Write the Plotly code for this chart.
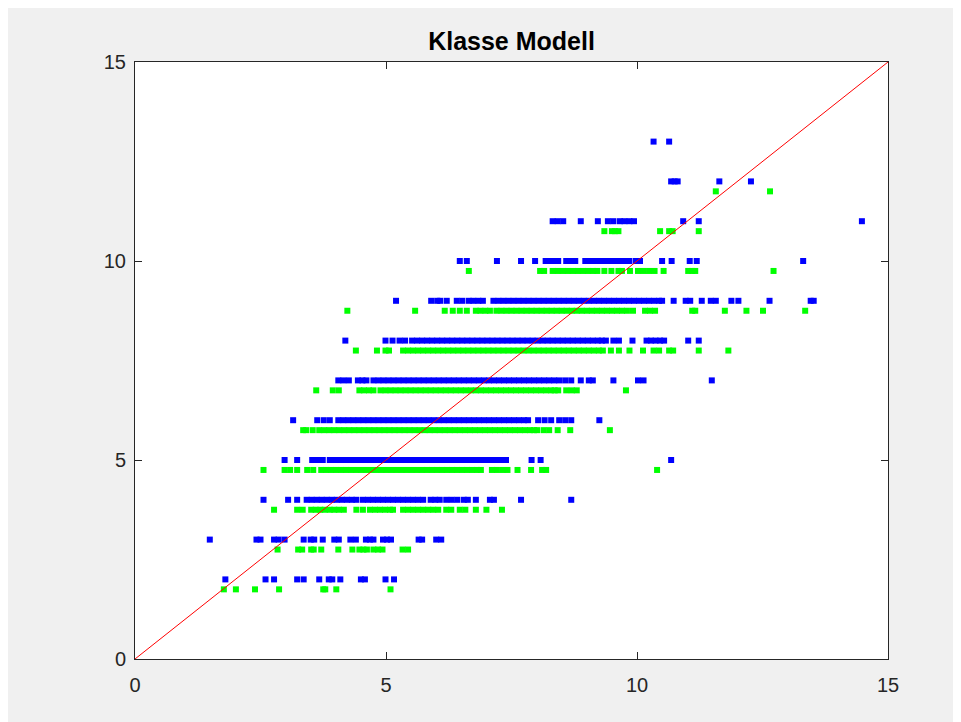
import plotly.graph_objects as go

# ---- data ----
# Blue series: one list of x values per integer class value y
blue_2 = [1.80, 2.60, 2.77, 3.23, 3.36, 3.67, 3.86, 3.93, 4.09, 4.50, 4.58, 4.99, 5.16]
blue_3 = [1.49, 2.42, 2.50, 2.77, 2.86, 2.98, 3.36, 3.50, 3.57, 3.74, 3.97, 4.06, 4.29, 4.40,
          4.60, 4.68, 4.75, 4.94, 5.02, 5.10, 5.65, 5.72, 6.00, 6.10]
blue_4 = [2.56, 3.05, 3.23, 3.42, 3.52, 3.62, 3.72, 3.82, 3.92, 4.02, 4.12, 4.22, 4.32, 4.41,
          4.54, 4.64, 4.74, 4.84, 4.94, 5.04, 5.14, 5.24, 5.34, 5.44, 5.54, 5.64, 5.74,
          5.89, 5.98, 6.07, 6.20, 6.31, 6.42, 6.55, 6.63, 6.79, 7.07, 7.15, 7.69, 8.69]
blue_5 = [2.98, 3.23, 3.53, 3.63, 3.74, 3.88, 3.98, 4.08, 4.18, 4.28, 4.38, 4.48, 4.58, 4.68,
          4.78, 4.88, 4.98, 5.08, 5.18, 5.28, 5.38, 5.48, 5.58, 5.68, 5.78, 5.88, 5.98, 6.08,
          6.18, 6.28, 6.38, 6.48, 6.58, 6.68, 6.78, 6.88, 6.98, 7.08, 7.18, 7.28, 7.39,
          7.90, 8.08, 10.68]
blue_6 = [3.15, 3.63, 3.76, 3.88, 4.05, 4.15, 4.25, 4.35, 4.45, 4.55, 4.65, 4.75, 4.85, 4.95,
          5.05, 5.15, 5.25, 5.35, 5.45, 5.55, 5.65, 5.75, 5.85, 5.95, 6.05, 6.15, 6.25, 6.35,
          6.45, 6.55, 6.65, 6.75, 6.85, 6.95, 7.05, 7.15, 7.25, 7.35, 7.45, 7.55, 7.65, 7.75,
          7.83, 8.03, 8.16, 8.29, 8.45, 8.57, 8.69, 9.25]
blue_7 = [4.05, 4.15, 4.26, 4.44, 4.53, 4.61, 4.75, 4.85, 4.95, 5.05, 5.15, 5.25, 5.35, 5.45,
          5.55, 5.65, 5.75, 5.85, 5.95, 6.05, 6.15, 6.25, 6.35, 6.45, 6.55, 6.65, 6.75, 6.85,
          6.95, 7.05, 7.15, 7.25, 7.35, 7.45, 7.55, 7.65, 7.75, 7.85, 7.95, 8.05, 8.15, 8.25,
          8.35, 8.45, 8.57, 8.69, 8.88, 9.04, 9.12, 9.53, 10.02, 10.13, 11.49]
blue_8 = [4.19, 4.99, 5.13, 5.27, 5.38, 5.52, 5.62, 5.72, 5.82, 5.92, 6.02, 6.12, 6.22, 6.32,
          6.42, 6.52, 6.62, 6.72, 6.82, 6.92, 7.02, 7.12, 7.22, 7.32, 7.42, 7.52, 7.62, 7.72,
          7.82, 7.92, 8.02, 8.12, 8.22, 8.32, 8.42, 8.52, 8.62, 8.72, 8.82, 8.92, 9.02, 9.12,
          9.22, 9.30, 9.38, 9.53, 9.64, 9.91, 10.19, 10.28, 10.37, 10.46, 10.54, 11.02, 11.23]
blue_9 = [5.20, 5.90, 6.02, 6.08, 6.21, 6.41, 6.52, 6.65, 6.74, 6.84, 6.93, 7.14, 7.24, 7.34,
          7.44, 7.54, 7.64, 7.74, 7.84, 7.94, 8.04, 8.14, 8.24, 8.34, 8.44, 8.54, 8.64, 8.74,
          8.84, 8.94, 9.04, 9.14, 9.24, 9.34, 9.44, 9.54, 9.64, 9.74, 9.84, 9.94, 10.04, 10.14,
          10.24, 10.34, 10.44, 10.50, 10.73, 10.97, 11.06, 11.29, 11.47, 11.57, 11.88, 12.02,
          12.64, 13.46, 13.52]
blue_10 = [6.47, 6.61, 7.21, 7.69, 7.97, 8.18, 8.26, 8.35, 8.43, 8.59, 8.68, 8.77, 8.97, 9.07,
           9.17, 9.27, 9.37, 9.47, 9.57, 9.67, 9.77, 9.85, 9.98, 10.06, 10.50, 10.69, 11.05,
           11.19, 13.31]
blue_11 = [8.32, 8.42, 8.53, 8.88, 9.22, 9.42, 9.53, 9.66, 9.75, 9.85, 9.94, 10.92, 11.23, 14.48]
blue_12 = [10.68, 10.75, 10.81, 11.64, 12.27]
blue_13 = [10.33, 10.64]

# Green series: one list of x values per shifted class value (y - 0.25)
green_2 = [1.77, 2.01, 2.39, 2.87, 3.75, 3.79, 4.01, 5.09]
green_3 = [2.84, 3.25, 3.33, 3.51, 3.56, 3.71, 4.05, 4.33, 4.47, 4.55, 4.62, 4.75, 4.84, 4.93,
           5.33, 5.44]
green_4 = [2.77, 3.23, 3.34, 3.51, 3.60, 3.69, 3.78, 3.88, 3.97, 4.06, 4.16, 4.41, 4.54, 4.68,
           4.78, 4.88, 4.98, 5.08, 5.14, 5.34, 5.44, 5.54, 5.64, 5.74, 5.84, 5.94, 6.04, 6.20,
           6.30, 6.47, 6.58, 6.79, 7.00, 7.31]
green_5 = [2.56, 2.98, 3.09, 3.23, 3.43, 3.55, 3.71, 3.81, 3.91, 4.01, 4.11, 4.21, 4.31, 4.41,
           4.51, 4.61, 4.71, 4.81, 4.91, 5.01, 5.11, 5.21, 5.31, 5.41, 5.51, 5.61, 5.71, 5.81,
           5.91, 6.01, 6.11, 6.21, 6.31, 6.41, 6.51, 6.61, 6.71, 6.81, 6.89, 7.11, 7.21, 7.32,
           7.42, 7.62, 7.89, 8.11, 8.19, 10.40]
green_6 = [3.35, 3.41, 3.54, 3.67, 3.77, 3.87, 3.97, 4.07, 4.17, 4.27, 4.37, 4.47, 4.57, 4.67,
           4.77, 4.87, 4.97, 5.07, 5.17, 5.27, 5.37, 5.47, 5.57, 5.67, 5.77, 5.87, 5.97, 6.07,
           6.17, 6.27, 6.37, 6.47, 6.57, 6.67, 6.77, 6.87, 6.97, 7.07, 7.17, 7.27, 7.37, 7.47,
           7.57, 7.67, 7.77, 7.87, 7.95, 8.01, 8.14, 8.25, 8.42, 8.67, 9.46]
green_7 = [3.61, 3.94, 4.06, 4.47, 4.56, 4.66, 4.75, 4.89, 4.99, 5.09, 5.19, 5.29, 5.39, 5.49,
           5.59, 5.69, 5.79, 5.89, 5.99, 6.09, 6.19, 6.29, 6.39, 6.49, 6.59, 6.69, 6.79, 6.89,
           6.99, 7.09, 7.19, 7.29, 7.39, 7.49, 7.59, 7.69, 7.79, 7.89, 7.99, 8.09, 8.19, 8.29,
           8.36, 8.43, 8.59, 8.70, 8.80, 9.78]
green_8 = [4.40, 4.82, 4.99, 5.06, 5.34, 5.44, 5.54, 5.64, 5.74, 5.84, 5.94, 6.04, 6.14, 6.24,
           6.34, 6.44, 6.54, 6.64, 6.74, 6.84, 6.94, 7.04, 7.14, 7.24, 7.34, 7.44, 7.54, 7.64,
           7.74, 7.84, 7.94, 8.04, 8.14, 8.24, 8.34, 8.44, 8.54, 8.64, 8.74, 8.84, 8.94, 9.04,
           9.14, 9.24, 9.32, 9.48, 9.64, 9.85, 10.12, 10.33, 10.44, 10.64, 10.72, 11.23, 11.82]
green_9 = [4.23, 5.58, 6.17, 6.33, 6.47, 6.61, 6.79, 6.88, 6.98, 7.07, 7.20, 7.30, 7.40, 7.50,
           7.60, 7.70, 7.80, 7.90, 8.00, 8.10, 8.20, 8.30, 8.40, 8.50, 8.60, 8.70, 8.80, 8.90,
           9.00, 9.10, 9.20, 9.30, 9.40, 9.50, 9.60, 9.70, 9.80, 9.92, 10.16, 10.26, 10.36,
           11.10, 11.16, 11.75, 12.18, 12.51, 13.35]
green_10 = [6.65, 8.07, 8.15, 8.32, 8.42, 8.52, 8.62, 8.72, 8.82, 8.92, 9.02, 9.12, 9.21, 9.35,
            9.49, 9.63, 9.70, 9.86, 10.02, 10.13, 10.24, 10.35, 10.53, 11.02, 11.10, 11.16, 12.72]
green_11 = [9.35, 9.50, 9.56, 9.63, 10.46, 10.64, 10.71, 11.23]
green_12 = [11.57, 12.65]

blue_rows = {2: blue_2, 3: blue_3, 4: blue_4, 5: blue_5, 6: blue_6, 7: blue_7, 8: blue_8,
             9: blue_9, 10: blue_10, 11: blue_11, 12: blue_12, 13: blue_13}
green_rows = {1.75: green_2, 2.75: green_3, 3.75: green_4, 4.75: green_5, 5.75: green_6,
              6.75: green_7, 7.75: green_8, 8.75: green_9, 9.75: green_10, 10.75: green_11,
              11.75: green_12}

ref_line = [0, 15]
tick_values = [0, 5, 10, 15]
title_text = "Klasse Modell"

bx, by = [], []
for yv, xs in blue_rows.items():
    bx += xs
    by += [yv] * len(xs)
gx, gy = [], []
for yv, xs in green_rows.items():
    gx += xs
    gy += [yv] * len(xs)

FONT = "Liberation Sans, Arial, Helvetica, sans-serif"
AX = "#262626"

fig = go.Figure()
fig.add_trace(go.Scatter(x=bx, y=by, mode="markers",
                         marker=dict(symbol="square", size=6, color="#0000ff", line=dict(width=0)),
                         hoverinfo="skip"))
fig.add_trace(go.Scatter(x=gx, y=gy, mode="markers",
                         marker=dict(symbol="square", size=6, color="#00ff00", line=dict(width=0)),
                         hoverinfo="skip"))
fig.add_trace(go.Scatter(x=ref_line, y=ref_line, mode="lines",
                         line=dict(color="#ff0000", width=1), hoverinfo="skip"))

axis_common = dict(range=[0, 15], tickvals=tick_values, ticks="inside", ticklen=7,
                   tickcolor=AX, tickwidth=1, showline=True, linecolor=AX, linewidth=1,
                   mirror="ticks", showgrid=False, zeroline=False,
                   tickfont=dict(family=FONT, size=20, color=AX))

fig.update_layout(
    width=961, height=722,
    margin=dict(l=127, r=81, t=54, b=71, pad=0),
    paper_bgcolor="#f0f0f0", plot_bgcolor="#ffffff",
    showlegend=False,
    title=dict(text="<b>" + title_text + "</b>", x=0.5, xref="paper",
               y=1 - 33 / 722, yref="container", yanchor="middle", xanchor="center",
               font=dict(family=FONT, size=25, color="#000000")),
    xaxis=dict(axis_common, ticklabelstandoff=8),
    yaxis=dict(axis_common, ticklabelstandoff=4),
)

fig.write_html("out.html")
